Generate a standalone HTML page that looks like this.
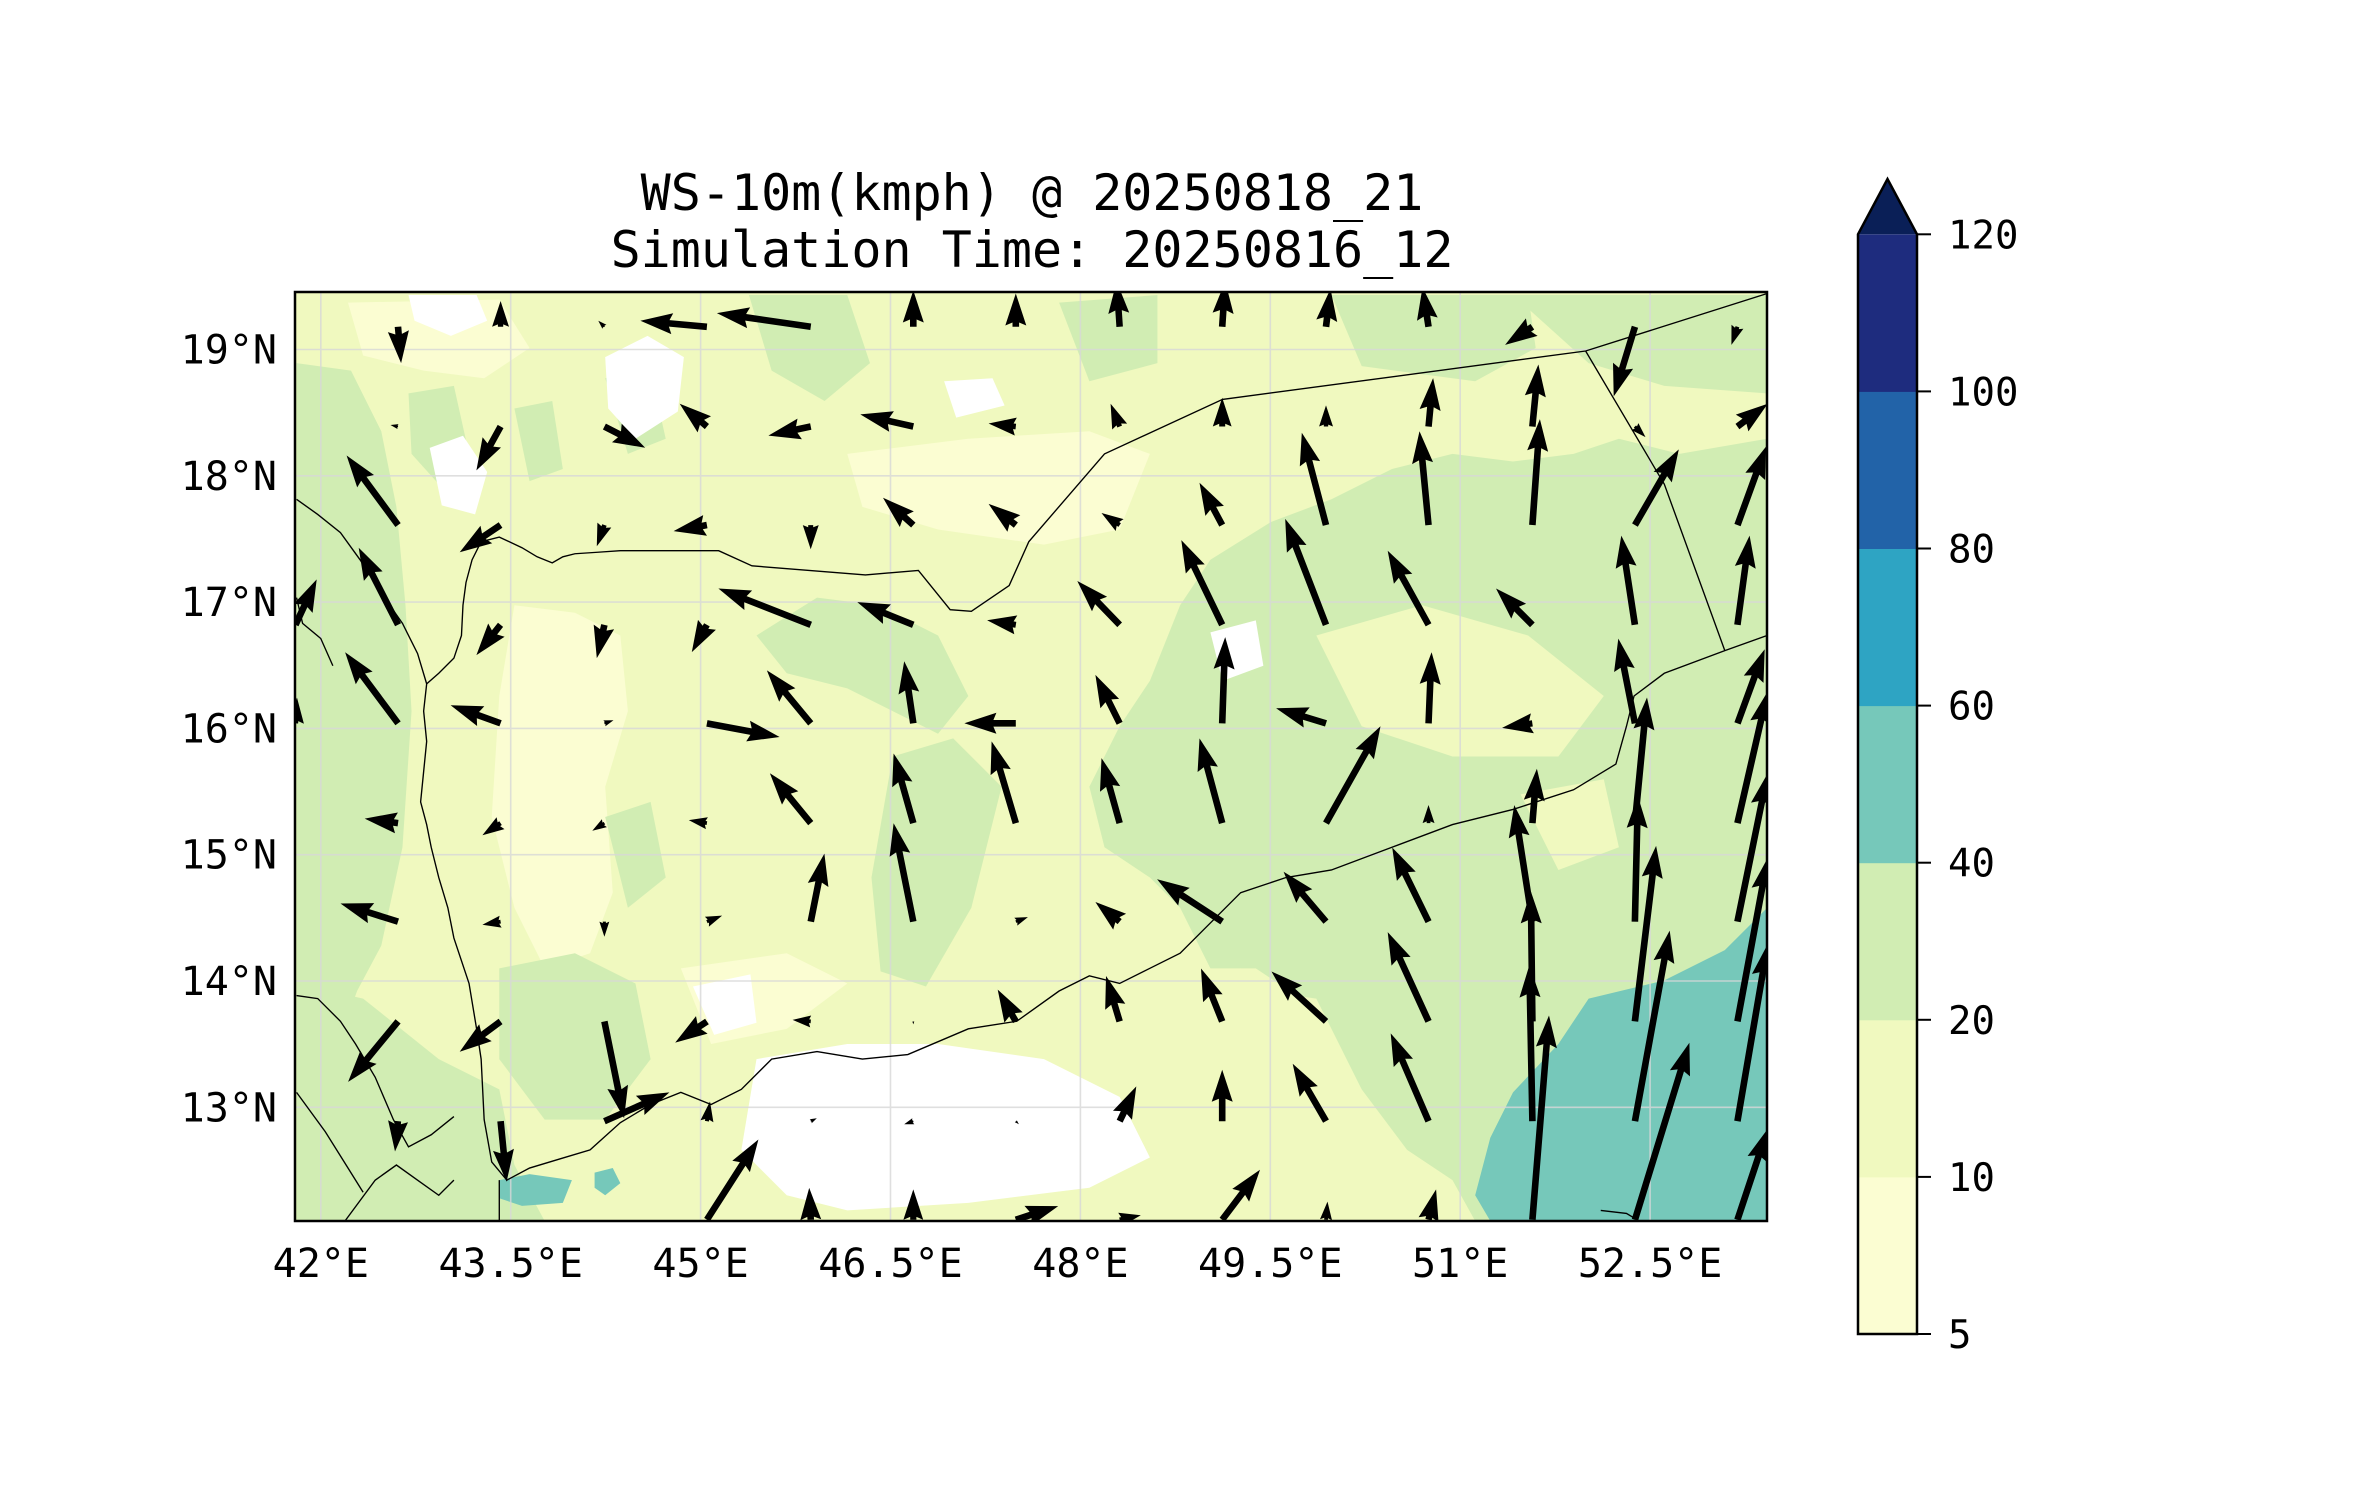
<!DOCTYPE html>
<html><head><meta charset="utf-8"><title>WS-10m</title>
<style>
html,body{margin:0;padding:0;background:#fff;}
svg{display:block;}
text{font-family:"DejaVu Sans Mono","Liberation Mono",monospace;fill:#000;}
</style></head>
<body>
<svg id="chart" width="2371" height="1500" viewBox="0 0 2371 1500" xmlns="http://www.w3.org/2000/svg">
<defs>
<clipPath id="plotclip"><rect x="295" y="292" width="1472" height="929"/></clipPath>
</defs>
<text x="1032" y="210" font-size="50" text-anchor="middle">WS-10m(kmph) @ 20250818_21</text>
<text x="1032" y="267" font-size="50" text-anchor="middle">Simulation Time: 20250816_12</text>

<g clip-path="url(#plotclip)">
<g transform="scale(1.513)">
<rect x="190" y="190" width="990" height="630" fill="#f0f9bf"/>
<g fill="#fbfdd2">
<path d="M560,300 L640,290 L720,285 L760,300 L740,350 L690,360 L620,350 L570,335 Z"/>
<path d="M340,400 L380,405 L410,420 L415,470 L400,520 L405,590 L390,630 L360,640 L340,600 L325,540 L330,460 Z"/>
<path d="M230,200 L330,198 L350,230 L320,250 L280,245 L240,235 Z"/>
<path d="M450,640 L520,630 L560,650 L520,680 L470,690 Z"/>
<path d="M780,600 L840,590 L860,620 L820,640 Z"/>
</g>
<g fill="#d1edb3">
<path d="M780,400 L800,370 L840,345 L880,330 L920,310 L960,300 L1000,305 L1040,300 L1070,290 L1110,300 L1168,290 L1168,807 L975,807 L960,780 L930,760 L900,720 L880,690 L860,660 L830,640 L800,640 L780,600 L760,580 L730,560 L720,520 L740,480 L760,450 Z"/>
<path d="M500,420 L540,395 L580,400 L620,420 L640,460 L620,485 L590,470 L560,455 L520,445 Z"/>
<path d="M495,195 L560,195 L575,240 L545,265 L510,245 Z"/>
<path d="M700,200 L765,195 L765,240 L720,252 Z"/>
<path d="M880,195 L1010,195 L1015,230 L975,252 L900,242 Z"/>
<path d="M196,240 L232,245 L252,285 L262,335 L268,400 L272,470 L266,560 L252,625 L236,655 L218,705 L196,705 Z"/>
<path d="M196,650 L240,660 L290,700 L330,720 L340,770 L360,807 L196,807 Z"/>
<path d="M330,640 L380,630 L420,650 L430,700 L400,740 L360,740 L330,700 Z"/>
<path d="M590,500 L630,488 L662,520 L642,600 L612,652 L582,642 L576,580 Z"/>
<path d="M1000,195 L1168,195 L1168,260 L1100,255 L1050,240 Z"/>
<path d="M270,260 L300,255 L310,300 L290,320 L272,300 Z"/>
<path d="M400,250 L430,245 L440,290 L415,300 Z"/>
<path d="M340,270 L365,265 L372,310 L350,318 Z"/>
<path d="M400,540 L430,530 L440,580 L415,600 Z"/>
</g>
<g fill="#f0f9bf">
<path d="M870,420 L940,400 L1010,420 L1060,460 L1030,500 L960,500 L900,480 Z"/>
<path d="M1005,525 L1060,515 L1070,560 L1030,575 Z"/>
<path d="M800,650 L870,660 L900,720 L880,790 L820,807 L780,800 L760,760 Z"/>
</g>
<g fill="#76c8ba">
<path d="M1168,600 L1140,628 L1100,648 L1050,660 L1030,690 L1000,722 L985,752 L975,790 L985,807 L1168,807 Z"/>
<path d="M330,780 L350,776 L378,780 L372,795 L345,797 L330,792 Z"/>
<path d="M393,775 L405,772 L410,782 L400,790 L393,785 Z"/>
</g>
<g fill="#ffffff">
<path d="M500,700 L560,690 L620,690 L690,700 L740,725 L760,765 L720,785 L640,795 L560,800 L520,790 L490,760 Z"/>
<path d="M270,195 L315,195 L322,212 L298,222 L274,212 Z"/>
<path d="M400,236 L428,222 L452,236 L448,272 L420,290 L402,270 Z"/>
<path d="M624,252 L656,250 L664,268 L632,276 Z"/>
<path d="M284,296 L306,288 L322,312 L314,340 L292,334 Z"/>
<path d="M800,418 L830,410 L835,440 L808,450 Z"/>
<path d="M458,652 L496,644 L500,676 L472,684 Z"/>
</g>
</g>
<g stroke="#d8d8d8" stroke-width="1.6" opacity="0.8" id="gridlines"></g>
<g transform="scale(1.513)" fill="none" stroke="#000" stroke-width="0.9">
<path d="M318,358 L330,355 L345,362 L355,368 L365,372 L372,368 L380,366 L395,365 L410,364 L475,364 L497,374 L572,380 L607,377 L628,403 L642,404 L667,387 L680,358 L730,300 L808,264 L1048,232 L1168,194"/>
<path d="M1048,232 L1100,320 L1140,430"/>
<path d="M318,358 L312,370 L308,385 L306,400 L305,420 L300,435 L290,445 L282,452 L280,470 L282,490 L280,510 L278,530 L282,545 L285,560 L290,580 L296,600 L300,620 L310,650 L315,680 L318,700 L320,740 L325,768 L335,780 L350,772 L370,766 L390,760 L410,742 L430,730 L450,722 L470,730 L490,720 L510,700 L540,695 L570,700 L600,697 L640,680 L672,675 L700,655 L720,645 L740,650 L760,640 L780,630 L800,610 L820,590 L850,580 L880,575 L920,560 L960,545 L1000,535 L1040,522 L1068,505 L1075,480 L1080,460 L1100,445 L1140,430 L1168,420"/>
<path d="M196,330 L210,340 L225,352 L238,370 L252,392 L266,412 L276,432 L282,452"/>
<path d="M196,395 L200,412 L212,422 L220,440"/>
<path d="M196,658 L210,660 L225,675 L235,690 L248,712 L260,740 L270,758 L285,750 L300,738"/>
<path d="M196,722 L215,748 L230,772 L240,788"/>
<path d="M228,807 L248,780 L262,770 L276,780 L290,790 L300,780"/>
<path d="M330,780 L330,807"/>
<path d="M1058,800 L1075,802 L1080,805"/>
</g>
<g id="arrows"></g>
</g>
<rect x="295" y="292" width="1472" height="929" fill="none" stroke="#000" stroke-width="2.5"/>
<g id="xticks"></g>
<g id="yticks"></g>
<g id="colorbar"></g>
</svg>
<script>
// wind grid (lon/lat of quiver points)
const gridLons = [41.80,42.61,43.42,44.24,45.05,45.87,46.68,47.49,48.31,49.12,49.94,50.75,51.57,52.38,53.19];
const gridLats = [19.18,18.39,17.61,16.82,16.04,15.25,14.47,13.68,12.89,12.11];
// u (eastward) components, rows top->bottom
const uRows = [
[0,2,0,-4,-44,-62,0,0,-2,2,3,-4,-18,-14,-4],
[0,-5,-16,27,-18,-28,-35,-18,-6,0,0,3,4,7,20],
[0,-34,-27,-5,-22,0,-20,-18,-12,-15,-16,-6,5,29,19],
[14,-26,-16,-5,-10,-61,-37,-19,-28,-27,-27,-27,-24,-9,8],
[1,-35,-33,6,48,-29,-6,-34,-16,2,-33,2,-20,-11,18],
[0,-22,-12,-8,-12,-27,-13,-16,-12,-15,36,0,3,8,20],
[0,-38,-12,0,10,9,-13,8,-16,-43,-28,-24,-12,2,20],
[0,-33,-27,13,-21,-12,0,-12,-9,-14,-36,-27,-1,14,20],
[0,-2,4,43,2,4,-6,2,11,0,-22,-25,-2,23,20],
[0,0,0,0,34,-1,0,28,14,25,1,5,11,36,20]
];
// v (northward) components
const vRows = [
[0,-24,17,4,4,9,24,22,30,30,25,26,-12,-46,-12],
[0,1,-29,-14,15,-6,8,2,15,19,14,32,41,-7,15],
[0,46,-18,-14,-4,-16,18,14,8,28,61,62,70,50,52],
[30,51,-20,-22,-18,24,15,3,29,56,70,49,24,59,59],
[17,47,12,2,-9,35,41,0,32,57,10,47,-3,56,49],
[0,3,-8,-5,2,33,46,54,43,56,64,12,36,83,87],
[0,12,-2,-10,4,45,65,3,13,28,33,49,77,83,98],
[0,-40,-20,-64,-14,1,-2,21,30,35,33,59,86,116,108],
[0,-20,-40,19,13,2,-2,-2,23,34,38,58,103,126,117],
[0,0,0,0,53,21,20,9,3,33,12,20,135,117,60]
];
const xTickVals = [42,43.5,45,46.5,48,49.5,51,52.5];
const xTickLabels = ["42°E","43.5°E","45°E","46.5°E","48°E","49.5°E","51°E","52.5°E"];
const yTickVals = [19,18,17,16,15,14,13];
const yTickLabels = ["19°N","18°N","17°N","16°N","15°N","14°N","13°N"];
const cbLevels = [5,10,20,40,60,80,100,120];
const cbColors = ["#fbfdd2","#f0f9bf","#d1edb3","#76c8ba","#2ea4c3","#2263a8","#1e2c7e"];
const cbExtendColor = "#0a1f57";

const NS = "http://www.w3.org/2000/svg";
function xOf(lon){ return 320.8 + (lon-42)*126.6; }
function yOf(lat){ return 349.5 + (19-lat)*126.3; }
const pxPerUnit = 1.513;
function mk(tag, attrs, parent){ const e=document.createElementNS(NS,tag); for(const k in attrs) e.setAttribute(k,attrs[k]); parent.appendChild(e); return e; }

const gl = document.getElementById('gridlines');
xTickVals.forEach(v=>{ const l=mk('line',{x1:xOf(v),x2:xOf(v),y1:292,y2:1221},gl);

 });
yTickVals.forEach(v=>{ const l=mk('line',{x1:295,x2:1767,y1:yOf(v),y2:yOf(v)},gl);

 });

const xt = document.getElementById('xticks');
xTickVals.forEach((v,i)=>{ const t=mk('text',{x:xOf(v),y:1277,'font-size':40,'text-anchor':'middle'},xt); t.textContent=xTickLabels[i];

 });
const yt = document.getElementById('yticks');
yTickVals.forEach((v,i)=>{ const t=mk('text',{x:277,y:yOf(v)+14,'font-size':40,'text-anchor':'end'},yt); t.textContent=yTickLabels[i];

 });

const ag = document.getElementById('arrows');
const W=6.6, HL=32, HAL=29, HW=21;
for(let r=0;r<gridLats.length;r++){
  for(let c=0;c<gridLons.length;c++){
    const u=uRows[r][c], v=vRows[r][c];
    const dx=u*pxPerUnit, dy=-v*pxPerUnit;
    const L=Math.hypot(dx,dy);
    if(L<2) continue;
    const s = L<HL ? L/HL : 1;
    const w=W*s, hl=HL*s, hal=HAL*s, hw=HW*s;
    const pts=[[0,-w/2],[L-hal,-w/2],[L-hl,-hw/2],[L,0],[L-hl,hw/2],[L-hal,w/2],[0,w/2]];
    const ca=dx/L, sa=dy/L, x0=xOf(gridLons[c]), y0=yOf(gridLats[r]);
    const p=pts.map(q=>(x0+q[0]*ca-q[1]*sa).toFixed(1)+","+(y0+q[0]*sa+q[1]*ca).toFixed(1)).join(" ");
    const el=mk('polygon',{points:p,fill:'#000'},ag);
    
    
  }
}

const cb=document.getElementById('colorbar');
const cbX=1858, cbW=59, cbBottom=1334, cbStep=157.1;
function cbY(i){ return cbBottom - i*cbStep; }
for(let i=0;i<cbColors.length;i++){
  const r=mk('rect',{x:cbX,y:cbY(i+1),width:cbW,height:cbStep+0.5,fill:cbColors[i]},cb);
  
  
}
const tri=mk('polygon',{points:`${cbX},${cbY(7)} ${cbX+cbW/2},179 ${cbX+cbW},${cbY(7)}`,fill:cbExtendColor},cb);


const outline=mk('polygon',{points:`${cbX},${cbBottom} ${cbX},${cbY(7)} ${cbX+cbW/2},179 ${cbX+cbW},${cbY(7)} ${cbX+cbW},${cbBottom}`,fill:'none',stroke:'#000','stroke-width':2.5},cb);


cbLevels.forEach((lv,i)=>{
  const tk=mk('line',{x1:cbX+cbW,x2:cbX+cbW+14,y1:cbY(i),y2:cbY(i),stroke:'#000','stroke-width':2},cb);
  
  
  const t=mk('text',{x:1948,y:cbY(i)+14,'font-size':39},cb); t.textContent=lv;
  
  
});
</script>
</body></html>
